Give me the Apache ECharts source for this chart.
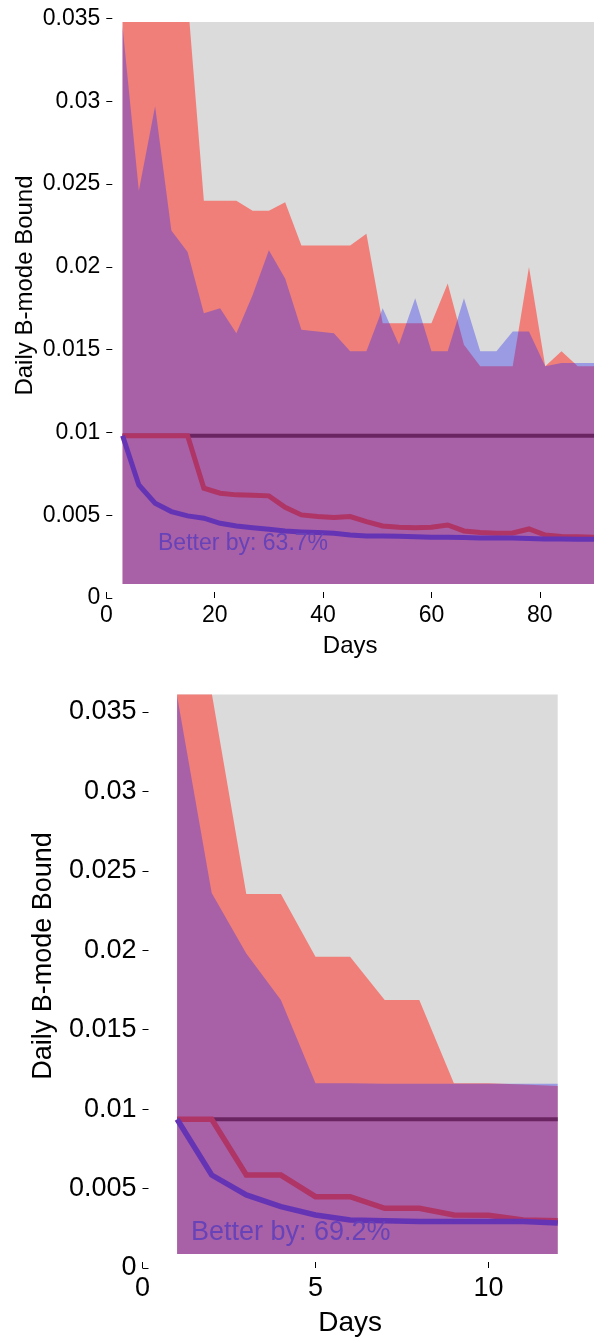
<!DOCTYPE html>
<html>
<head>
<meta charset="utf-8">
<script src="https://cdn.jsdelivr.net/npm/echarts@6/dist/echarts.min.js"></script>
<style>
html,body{margin:0;padding:0;background:#fff;}
#c{width:594px;height:1338px;}
</style>
</head>
<body>
<div id="c"></div>
<script>
// ---------------- DATA ----------------
// Top panel
const topDays = [3,6,9,12,15,18,21,24,27,30,33,36,39,42,45,48,51,54,57,60,63,66,69,72,75,78,81,84,87,90];
const topRedBand = [0.0400,0.0400,0.0390,0.0380,0.0362,0.0240,0.0240,0.0240,0.0234,0.0234,0.0239,0.0213,0.0213,0.0213,0.0213,0.0220,0.0166,0.0166,0.0166,0.0166,0.0190,0.0153,0.0140,0.0140,0.0140,0.0200,0.0140,0.0149,0.0140,0.0140];
const topBlueBand = [0.0345,0.0246,0.0297,0.0222,0.0209,0.0172,0.0175,0.0160,0.0183,0.0210,0.0193,0.0162,0.0161,0.0160,0.0149,0.0149,0.0175,0.0153,0.0181,0.0149,0.0149,0.0181,0.0149,0.0149,0.0161,0.0161,0.0140,0.0142,0.0142,0.0142];
const topRedLine = [0.0098,0.0098,0.0098,0.0098,0.0098,0.00663,0.00633,0.00623,0.0062,0.00617,0.00548,0.00502,0.00492,0.00486,0.00492,0.00461,0.00435,0.00427,0.00424,0.00427,0.00441,0.00405,0.00395,0.00391,0.00393,0.00417,0.0038,0.00372,0.0037,0.00367];
const topBlueLine = [0.0098,0.00683,0.00573,0.00522,0.00496,0.00482,0.00451,0.00435,0.00425,0.00415,0.00405,0.00399,0.00395,0.00391,0.0038,0.00375,0.00375,0.00373,0.0037,0.00367,0.00367,0.00365,0.00363,0.00363,0.00363,0.0036,0.00357,0.00357,0.00355,0.00355];
const topRefLevel = 0.0098;
const topBetter = 'Better by: 63.7%';
const topXTicks = [0,20,40,60,80];
const topYTicks = [0,0.005,0.01,0.015,0.02,0.025,0.03,0.035];

// Bottom panel
const botDays = [1,2,3,4,5,6,7,8,9,10,11,12];
const botRedBand = [0.0380,0.0362,0.02354,0.02354,0.0196,0.0196,0.01687,0.01687,0.01163,0.01163,0.01155,0.01145];
const botBlueBand = [0.0360,0.0236,0.0198,0.01687,0.01163,0.01163,0.0116,0.0116,0.0116,0.0116,0.0116,0.0116];
const botRedLine = [0.00936,0.00936,0.00585,0.00585,0.00449,0.00449,0.00376,0.00376,0.00334,0.00332,0.00302,0.00298];
const botBlueLine = [0.00936,0.00585,0.0046,0.00386,0.00334,0.00302,0.00298,0.00292,0.00292,0.00292,0.00292,0.00283];
const botRefLevel = 0.00936;
const botBetter = 'Better by: 69.2%';
const botXTicks = [0,5,10];
const botYTicks = [0,0.005,0.01,0.015,0.02,0.025,0.03,0.035];

// ---------------- LAYOUT ----------------
const FF = '"Liberation Sans", Arial, Helvetica, sans-serif';
const GRAY = '#DBDBDB', CORAL = '#F07F7A', BLUEA = 'rgba(50,50,240,0.38)';
const DARK = '#6B2462', REDL = '#AE3566', BLUEL = '#6534B5', TXT = '#6842B8';

// top frame mapping
const T = {x0:106.3, pxd:5.43, y0:598, pyu:16554, xmax:90, ymax:0.035,
           px0:3, px1:90, py0:0.00085, py1:0.0348};
// bottom frame mapping
const B = {x0:142.5, pxd:34.6, y0:1268, pyu:15886, xmax:12, ymax:0.035,
           px0:1, px1:12, py0:0.00088, py1:0.0361};

function frameGrid(M){
  return {left:M.x0, top:M.y0 - M.ymax*M.pyu, width:M.xmax*M.pxd, height:M.ymax*M.pyu,
          show:false, containLabel:false};
}
function plotGrid(M){
  return {left:M.x0 + M.px0*M.pxd, top:M.y0 - M.py1*M.pyu,
          width:(M.px1-M.px0)*M.pxd, height:(M.py1-M.py0)*M.pyu,
          show:true, backgroundColor:GRAY, borderWidth:0, containLabel:false};
}
const yFmt = v => String(Math.round(v*1000)/1000);

function frameX(grid, M, ticks, fs, nfs, margin, gap){
  return {gridIndex:grid, type:'value', min:0, max:M.xmax,
    axisLine:{show:false}, splitLine:{show:false},
    axisTick:{show:true, inside:true, length:6, lineStyle:{color:'#000', width:1}, customValues:ticks},
    axisLabel:{customValues:ticks, fontSize:fs, color:'#000', fontFamily:FF, margin:margin},
    name:'Days', nameLocation:'middle', nameGap:gap,
    nameTextStyle:{fontSize:nfs, color:'#000', fontFamily:FF}};
}
function frameY(grid, M, ticks, fs){
  return {gridIndex:grid, type:'value', min:0, max:M.ymax,
    axisLine:{show:false}, splitLine:{show:false},
    axisTick:{show:true, inside:true, length:6, lineStyle:{color:'#000', width:1}, customValues:ticks},
    axisLabel:{customValues:ticks, fontSize:fs, color:'#000', fontFamily:FF, margin:6, formatter:yFmt}};
}
function plotX(grid, M){ return {gridIndex:grid, type:'value', min:M.px0, max:M.px1, show:false}; }
function plotY(grid, M){ return {gridIndex:grid, type:'value', min:M.py0, max:M.py1, show:false}; }

function pairs(days, vals){ return days.map((d,i)=>[d, vals[i]]); }
function areaS(ax, days, vals, color){
  return {type:'line', xAxisIndex:ax, yAxisIndex:ax, data:pairs(days, vals), symbol:'none',
    lineStyle:{width:0, opacity:0}, areaStyle:{color:color, opacity:1}, silent:true, clip:true};
}
function lineS(ax, days, vals, color, w){
  return {type:'line', xAxisIndex:ax, yAxisIndex:ax, data:pairs(days, vals), symbol:'none',
    lineStyle:{width:w, color:color, cap:'butt', join:'miter'}, silent:true, clip:true};
}

const chart = echarts.init(document.getElementById('c'), null, {renderer:'canvas'});
chart.setOption({
  animation:false,
  backgroundColor:'#fff',
  grid:[frameGrid(T), plotGrid(T), frameGrid(B), plotGrid(B)],
  xAxis:[frameX(0,T,topXTicks,23,24,6,36), plotX(1,T), frameX(2,B,botXTicks,27,28,7,41), plotX(3,B)],
  yAxis:[frameY(0,T,topYTicks,23), plotY(1,T), frameY(2,B,botYTicks,27), plotY(3,B)],
  series:[
    areaS(1, topDays, topRedBand, CORAL),
    areaS(1, topDays, topBlueBand, BLUEA),
    lineS(1, topDays, topDays.map(()=>topRefLevel), DARK, 4),
    lineS(1, topDays, topRedLine, REDL, 5),
    lineS(1, topDays, topBlueLine, BLUEL, 5),
    areaS(3, botDays, botRedBand, CORAL),
    areaS(3, botDays, botBlueBand, BLUEA),
    lineS(3, botDays, botDays.map(()=>botRefLevel), DARK, 4),
    lineS(3, botDays, botRedLine, REDL, 5.5),
    lineS(3, botDays, botBlueLine, BLUEL, 5.5)
  ],
  graphic:[
    {type:'text', x:25, y:285.5, rotation:Math.PI/2, z:100,
     style:{text:'Daily B-mode Bound', font:'24px ' + FF, fill:'#000', align:'center', verticalAlign:'middle'}},
    {type:'text', x:44, y:956, rotation:Math.PI/2, z:100,
     style:{text:'Daily B-mode Bound', font:'27px ' + FF, fill:'#000', align:'center', verticalAlign:'middle'}},
    {type:'text', x:158, y:544, z:100,
     style:{text:topBetter, font:'23px ' + FF, fill:TXT, align:'left', verticalAlign:'middle'}},
    {type:'text', x:191, y:1233, z:100,
     style:{text:botBetter, font:'27px ' + FF, fill:TXT, align:'left', verticalAlign:'middle'}}
  ]
});
</script>
</body>
</html>
